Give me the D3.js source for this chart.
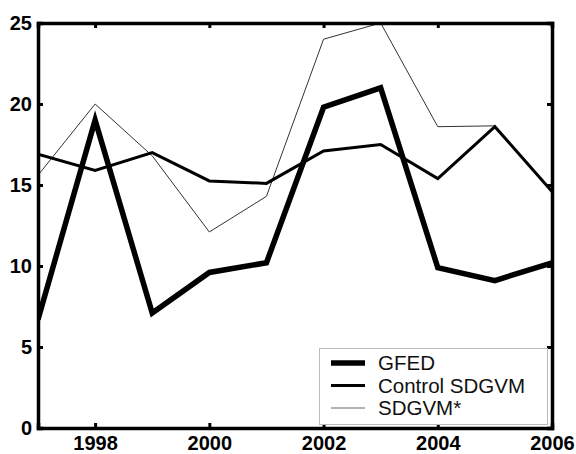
<!DOCTYPE html>
<html>
<head>
<meta charset="utf-8">
<script src="https://cdn.jsdelivr.net/npm/d3@7"></script>
<style>
  body { margin: 0; background: #fff; }
  svg text { font-family: "Liberation Sans", Arial, sans-serif; }
</style>
</head>
<body>
<svg width="576" height="454"></svg>
<script>
// data
const years = [1997, 1998, 1999, 2000, 2001, 2002, 2003, 2004, 2005, 2006];
const gfed = [6.7, 19.0, 7.1, 9.6, 10.2, 19.8, 21.0, 9.9, 9.1, 10.2];
const controlSdgvm = [16.9, 15.9, 17.0, 15.25, 15.1, 17.1, 17.5, 15.4, 18.6, 14.6];
const sdgvmStar = [15.6, 20.0, 16.8, 12.1, 14.3, 24.0, 25.0, 18.6, 18.65, 14.6];
const xTicks = [1998, 2000, 2002, 2004, 2006];
const yTicks = [0, 5, 10, 15, 20, 25];
const seriesNames = ["GFED", "Control SDGVM", "SDGVM*"];

const svg = d3.select("svg");
const margin = { top: 23, right: 24, bottom: 26, left: 38 };
const width = 576 - margin.left - margin.right;
const height = 454 - margin.top - margin.bottom;

const x = d3.scaleLinear().domain([1997, 2006]).range([margin.left, margin.left + width]);
const y = d3.scaleLinear().domain([0, 25]).range([margin.top + height, margin.top]);

const styles = [
    { stroke: "#000", width: 5.5 },
    { stroke: "#000", width: 3 },
    { stroke: "#333", width: 1 }
];
const allSeries = [gfed, controlSdgvm, sdgvmStar];

const line = d3.line()
    .x((d, i) => x(years[i]))
    .y(d => y(d));

svg.append("defs").append("clipPath").attr("id", "plot-clip")
    .append("rect")
    .attr("x", margin.left).attr("y", margin.top)
    .attr("width", width).attr("height", height);

// draw thin line first so the thick ones sit on top
const lineGroup = svg.append("g").attr("clip-path", "url(#plot-clip)");
[2, 1, 0].forEach(k => {
    lineGroup.append("path")
        .datum(allSeries[k])
        .attr("fill", "none")
        .attr("stroke", styles[k].stroke)
        .attr("stroke-width", styles[k].width)
        .attr("stroke-linejoin", "miter")
        .attr("d", line);
});

// axes (box with inward ticks)
const axisGroup = svg.append("g").attr("class", "axes");
const tickLen = 5;

axisGroup.append("g")
    .attr("transform", `translate(0, ${margin.top + height})`)
    .call(d3.axisBottom(x).tickValues(xTicks).tickFormat(d3.format("d")).tickSize(-tickLen).tickPadding(8));
axisGroup.append("g")
    .attr("transform", `translate(0, ${margin.top})`)
    .call(d3.axisTop(x).tickValues(xTicks).tickFormat("").tickSize(-tickLen));
axisGroup.append("g")
    .attr("transform", `translate(${margin.left}, 0)`)
    .call(d3.axisLeft(y).tickValues(yTicks).tickSize(-tickLen).tickPadding(6));
axisGroup.append("g")
    .attr("transform", `translate(${margin.left + width}, 0)`)
    .call(d3.axisRight(y).tickValues(yTicks).tickFormat("").tickSize(-tickLen));

axisGroup.selectAll(".domain").attr("stroke", "#000").attr("stroke-width", 3.5);
axisGroup.selectAll(".tick line").attr("stroke", "#000").attr("stroke-width", 3);
axisGroup.selectAll(".tick text")
    .attr("fill", "#000")
    .style("font-size", "20px")
    .style("font-weight", "bold");

// legend
const legend = svg.append("g").attr("class", "legend");
legend.append("rect")
    .attr("x", 319.5).attr("y", 348.5)
    .attr("width", 228).attr("height", 76)
    .attr("fill", "#fff")
    .attr("stroke", "#bbb")
    .attr("stroke-width", 1);

seriesNames.forEach((name, i) => {
    const cy = 363 + i * 22.5;
    legend.append("line")
        .attr("x1", 331).attr("x2", 365)
        .attr("y1", cy).attr("y2", cy)
        .attr("stroke", i === 2 ? "#666" : styles[i].stroke)
        .attr("stroke-width", styles[i].width);
    legend.append("text")
        .attr("x", 378).attr("y", cy)
        .attr("dy", "0.36em")
        .attr("fill", "#111")
        .style("font-size", "20.5px")
        .text(name);
});
</script>
</body>
</html>
